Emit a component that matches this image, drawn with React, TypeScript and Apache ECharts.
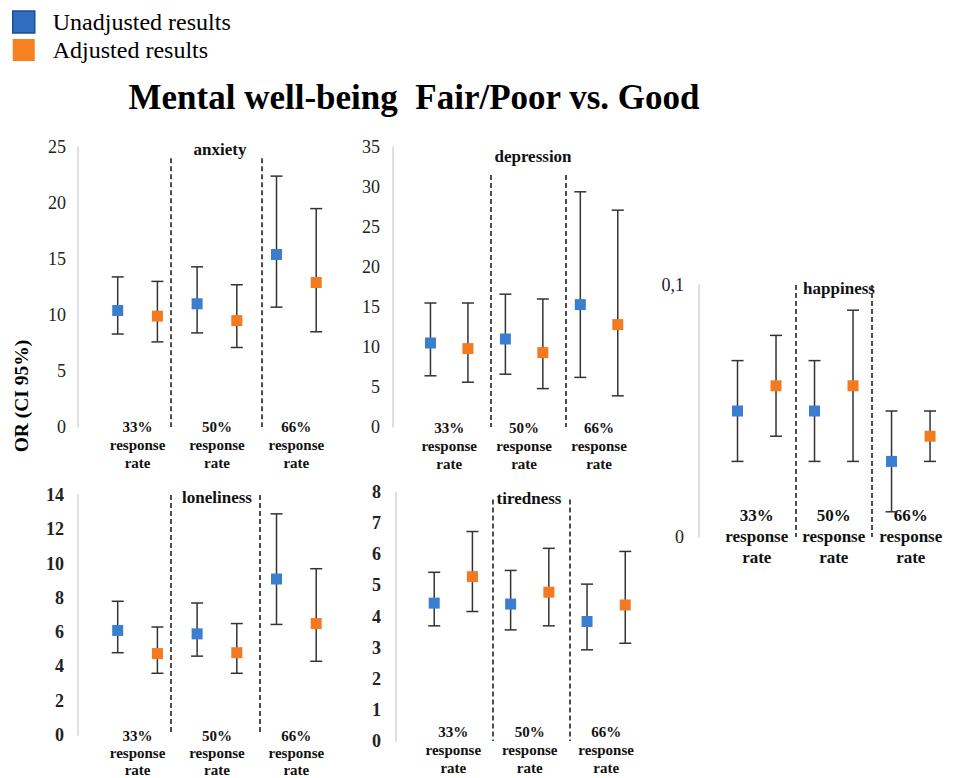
import React, { useEffect, useRef } from 'react';
import * as echarts from 'echarts';

const categories = ['33%\nresponse\nrate', '50%\nresponse\nrate', '66%\nresponse\nrate'];
const seriesNames = ['Unadjusted results', 'Adjusted results'];
const chartTitle = 'Mental well-being  Fair/Poor vs. Good';
const yAxisTitle = 'OR (CI 95%)';

// each row: [odds ratio, lower CI, upper CI] for 33%, 50%, 66% response rate
const anxietyUnadj = [[10.4, 8.3, 13.4], [11.0, 8.4, 14.3], [15.4, 10.7, 22.4]];
const anxietyAdj = [[9.9, 7.6, 13.0], [9.5, 7.1, 12.7], [12.9, 8.5, 19.5]];
const depressionUnadj = [[10.5, 6.4, 15.5], [11.0, 6.6, 16.6], [15.3, 6.2, 29.4]];
const depressionAdj = [[9.8, 5.6, 15.5], [9.3, 4.8, 16.0], [12.8, 3.9, 27.1]];
const happinessUnadj = [[0.05, 0.03, 0.07], [0.05, 0.03, 0.07], [0.03, 0.01, 0.05]];
const happinessAdj = [[0.06, 0.04, 0.08], [0.06, 0.03, 0.09], [0.04, 0.03, 0.05]];
const lonelinessUnadj = [[6.1, 4.8, 7.8], [5.9, 4.6, 7.7], [9.1, 6.45, 12.9]];
const lonelinessAdj = [[4.75, 3.6, 6.3], [4.8, 3.6, 6.5], [6.5, 4.3, 9.7]];
const tirednessUnadj = [[4.43, 3.7, 5.42], [4.4, 3.57, 5.48], [3.84, 2.93, 5.04]];
const tirednessAdj = [[5.28, 4.16, 6.73], [4.78, 3.7, 6.19], [4.37, 3.14, 6.09]];

// y axis scales: [max, interval]
const anxietyAxis = [25, 5];
const depressionAxis = [35, 5];
const happinessAxis = [0.1, 0.1];
const lonelinessAxis = [14, 2];
const tirednessAxis = [8, 1];

// separator positions between response-rate groups (category units)
const anxietySeps = [0.42, 1.56];
const depressionSeps = [0.56, 1.55];
const happinessSeps = [0.51, 1.49];
const lonelinessSeps = [0.42, 1.54];
const tirednessSeps = [0.51, 1.52];

const FONT = '"Liberation Serif", "Times New Roman", serif';
const BLUE = '#3a7fcf';
const ORANGE = '#f37a20';

const panels = [
  { name: 'anxiety', unadj: anxietyUnadj, adj: anxietyAdj, axis: anxietyAxis, seps: anxietySeps,
    grid: { left: 78, top: 147, width: 266, height: 280 }, lm: -9, lh: 18, fs: 15, yBold: false, ym: 12, tx: 220, ty: 149, sepTop: 0.96 },
  { name: 'depression', unadj: depressionUnadj, adj: depressionAdj, axis: depressionAxis, seps: depressionSeps,
    grid: { left: 393, top: 147, width: 251, height: 280 }, lm: -8, lh: 18, fs: 15, yBold: false, ym: 13, tx: 533, ty: 156, sepTop: 0.9 },
  { name: 'happiness', unadj: happinessUnadj, adj: happinessAdj, axis: happinessAxis, seps: happinessSeps,
    grid: { left: 699, top: 285, width: 261, height: 252 }, lm: -32, lh: 21, fs: 17, yBold: false, ym: 15, tx: 839, ty: 288, sepTop: 1 },
  { name: 'loneliness', unadj: lonelinessUnadj, adj: lonelinessAdj, axis: lonelinessAxis, seps: lonelinessSeps,
    grid: { left: 78, top: 495, width: 266, height: 243 }, lm: -8, lh: 17, fs: 15, yBold: true, ym: 14, tx: 217, ty: 497, sepTop: 1 },
  { name: 'tiredness', unadj: tirednessUnadj, adj: tirednessAdj, axis: tirednessAxis, seps: tirednessSeps,
    grid: { left: 396, top: 492, width: 256, height: 249 }, lm: -18, lh: 18, fs: 15, yBold: true, ym: 15, tx: 529, ty: 498, sepTop: 0.97 },
];

function makeRender(offset: number, color: string) {
  return (params: any, api: any) => {
    const xi = api.value(0);
    const m = api.value(1);
    const lo = api.value(2);
    const hi = api.value(3);
    const band = api.size([1, 0])[0];
    const c = api.coord([xi, m]);
    const x = c[0] + offset * band;
    const yHi = api.coord([xi, hi])[1];
    const yLo = api.coord([xi, lo])[1];
    const cap = 6;
    const ls = { stroke: '#333', lineWidth: 1.5 };
    return {
      type: 'group',
      children: [
        { type: 'line', shape: { x1: x, y1: yHi, x2: x, y2: yLo }, style: ls },
        { type: 'line', shape: { x1: x - cap, y1: yHi, x2: x + cap, y2: yHi }, style: ls },
        { type: 'line', shape: { x1: x - cap, y1: yLo, x2: x + cap, y2: yLo }, style: ls },
        { type: 'rect', shape: { x: x - 5.5, y: c[1] - 5.5, width: 11, height: 11 }, style: { fill: color } },
      ],
    };
  };
}

export default function App() {
  const ref = useRef<HTMLDivElement>(null);
  useEffect(() => {
    if (!ref.current) return;
    const chart = echarts.init(ref.current, null, { renderer: 'svg' });
    const grids: any[] = [];
    const xAxes: any[] = [];
    const yAxes: any[] = [];
    const series: any[] = [];
    const graphics: any[] = [];
    panels.forEach((p, i) => {
      grids.push({ ...p.grid, containLabel: false });
      xAxes.push({
        type: 'value', gridIndex: i, min: -0.75, max: 2.6,
        axisLine: { show: false }, axisTick: { show: false }, splitLine: { show: false },
        axisLabel: {
          customValues: [0, 1, 2],
          formatter: (v: number) => categories[Math.round(v)] ?? '',
          margin: p.lm, fontFamily: FONT, fontWeight: 'bold', fontSize: p.fs, lineHeight: p.lh, color: '#111',
        },
      });
      yAxes.push({
        type: 'value', gridIndex: i, min: 0, max: p.axis[0], interval: p.axis[1],
        axisLine: { show: true, onZero: false, lineStyle: { color: '#d4d4d4', width: 1.5 } },
        axisTick: { show: false }, splitLine: { show: false },
        axisLabel: {
          margin: p.ym, fontFamily: FONT, fontSize: 18, fontWeight: p.yBold ? 'bold' : 'normal', color: '#222',
          formatter: (v: number) => String(v).replace('.', ','),
        },
      });
      const top = p.axis[0] * p.sepTop;
      series.push({
        type: 'custom', name: seriesNames[0], xAxisIndex: i, yAxisIndex: i,
        itemStyle: { color: BLUE },
        renderItem: makeRender(-0.25, BLUE),
        encode: { x: 0, y: 1 },
        data: p.unadj.map((d, k) => [k, d[0], d[1], d[2]]),
        markLine: {
          silent: true, symbol: ['none', 'none'], label: { show: false },
          lineStyle: { type: [5, 3], color: '#222', width: 1.6 },
          data: p.seps.map((s) => [{ coord: [s, top] }, { coord: [s, 0] }]),
        },
      });
      series.push({
        type: 'custom', name: seriesNames[1], xAxisIndex: i, yAxisIndex: i,
        itemStyle: { color: ORANGE },
        renderItem: makeRender(0.25, ORANGE),
        encode: { x: 0, y: 1 },
        data: p.adj.map((d, k) => [k, d[0], d[1], d[2]]),
      });
      graphics.push({
        type: 'text', x: p.tx, y: p.ty,
        style: { text: p.name, font: `bold 17px ${FONT}`, fill: '#111', textAlign: 'center', textVerticalAlign: 'middle' },
      });
    });
    graphics.push({
      type: 'text', x: 414, y: 97,
      style: { text: chartTitle, font: `bold 35px ${FONT}`, fill: '#000', textAlign: 'center', textVerticalAlign: 'middle' },
    });
    graphics.push({
      type: 'text', x: 21, y: 396, rotation: Math.PI / 2,
      style: { text: yAxisTitle, font: `bold 19.5px ${FONT}`, fill: '#000', textAlign: 'center', textVerticalAlign: 'middle' },
    });
    chart.setOption({
      animation: false,
      backgroundColor: '#fff',
      legend: {
        orient: 'vertical', left: 7, top: 5, itemWidth: 22, itemHeight: 22, itemGap: 4, icon: 'rect',
        selectedMode: false,
        data: [
          { name: seriesNames[0], itemStyle: { color: '#2f6ec0', borderColor: '#1f4d8a', borderWidth: 1.5 } },
          { name: seriesNames[1], itemStyle: { color: '#f68121' } },
        ],
        textStyle: { fontFamily: FONT, fontSize: 24, lineHeight: 22, color: '#000', padding: [0, 0, 0, 13] },
      },
      grid: grids,
      xAxis: xAxes,
      yAxis: yAxes,
      series,
      graphic: graphics,
    });
    return () => chart.dispose();
  }, []);
  return <div ref={ref} style={{ position: 'fixed', left: 0, top: 0, width: 957, height: 778 }} />;
}
